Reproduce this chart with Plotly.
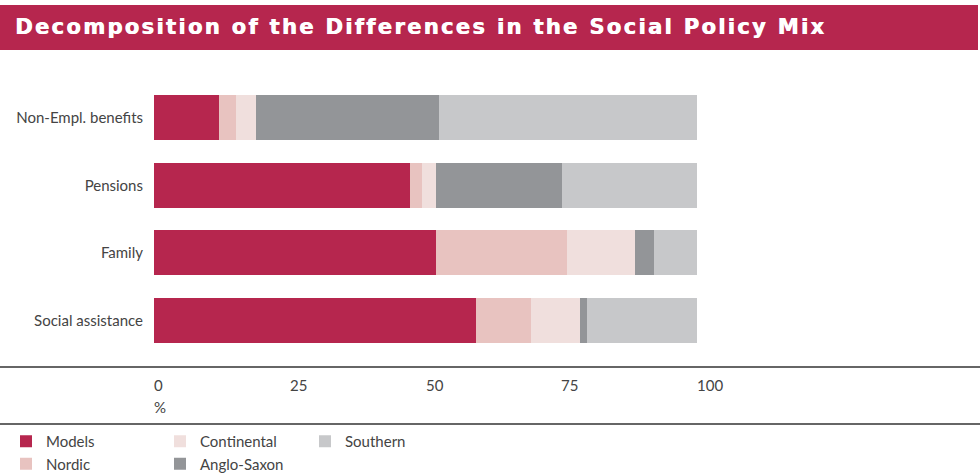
import plotly.graph_objects as go

categories = ["Non-Empl. benefits", "Pensions", "Family", "Social assistance"]
models = [12.0, 47.2, 52.0, 59.3]
nordic = [3.1, 2.2, 24.0, 10.2]
continental = [3.7, 2.6, 12.5, 8.9]
anglo_saxon = [33.7, 23.1, 3.5, 1.3]
southern = [47.5, 24.9, 8.0, 20.3]
tick_values = [0, 25, 50, 75, 100]
tick_labels = ["0", "25", "50", "75", "100"]
title_text = "Decomposition of the Differences in the Social Policy Mix"

W, H = 980, 475
ML, MR, MT, MB = 154, 283, 84, 121
PW, PH = W - ML - MR, H - MT - MB


def px(x):
    return (x - ML) / PW


def py(y):
    return (H - MB - y) / PH


series = [
    ("Models", models, "#B6264E", "legend"),
    ("Nordic", nordic, "#E8C3C0", "legend"),
    ("Continental", continental, "#F0DFDD", "legend2"),
    ("Anglo-Saxon", anglo_saxon, "#939598", "legend2"),
    ("Southern", southern, "#C7C8CA", "legend3"),
]

fig = go.Figure()
for name, vals, color, leg in series:
    fig.add_trace(go.Bar(
        y=categories, x=vals, name=name, orientation="h",
        marker=dict(color=color, line=dict(width=0)),
        legend=leg, hoverinfo="x+name",
    ))

txt = "#444444"
FONT = "Lato, Open Sans, sans-serif"
legend_common = dict(
    orientation="v", xanchor="left", yanchor="top", yref="paper", traceorder="normal",
    bgcolor="rgba(0,0,0,0)", font=dict(family=FONT, size=15, color=txt),
    tracegroupgap=0, itemwidth=30,
)

fig.update_layout(
    width=W, height=H,
    margin=dict(l=ML, r=MR, t=MT, b=MB, autoexpand=False),
    paper_bgcolor="white", plot_bgcolor="white",
    barmode="stack", bargap=0.335,
    showlegend=True,
    legend=dict(x=px(6), y=py(425), **legend_common),
    legend2=dict(x=px(160), y=py(425), **legend_common),
    legend3=dict(x=px(305), y=py(425), **legend_common),
    xaxis=dict(range=[0, 100], showgrid=False, zeroline=False, showticklabels=False,
               showline=False, fixedrange=True),
    yaxis=dict(categoryorder="array", categoryarray=categories, autorange="reversed",
               showgrid=False, zeroline=False, showline=False, ticks="",
               ticklabelstandoff=10, fixedrange=True,
               tickfont=dict(family=FONT, size=15, color=txt)),
    font=dict(family=FONT, color=txt),
)

shapes = [
    dict(type="rect", xref="paper", yref="paper", x0=px(0), x1=px(978), y0=py(50), y1=py(5),
         fillcolor="#B6264E", line=dict(width=0), layer="below"),
    dict(type="line", xref="paper", yref="paper", x0=px(0), x1=px(980), y0=py(367), y1=py(367),
         line=dict(color="#666666", width=2)),
    dict(type="line", xref="paper", yref="paper", x0=px(0), x1=px(980), y0=py(424), y1=py(424),
         line=dict(color="#333333", width=1.5)),
]
fig.update_layout(shapes=shapes)

annotations = [
    dict(text='<span style="letter-spacing:2.35px"><b>' + title_text + "</b></span>",
         xref="paper", yref="paper", x=px(13), y=py(27),
         xanchor="left", yanchor="middle", showarrow=False,
         font=dict(family="DejaVu Sans", size=21, color="white",
                   shadow="0.7px 0px 0px white")),
]
for v, lab in zip(tick_values, tick_labels):
    annotations.append(dict(text=lab, xref="x", yref="paper", x=v, y=py(385), xanchor="left",
                            yanchor="middle", showarrow=False, xshift=-2,
                            font=dict(family=FONT, size=15, color=txt)))
annotations.append(dict(text="%", xref="x", yref="paper", x=0, y=py(407), xanchor="left",
                        yanchor="middle", showarrow=False, xshift=-2,
                        font=dict(family=FONT, size=15, color=txt)))
fig.update_layout(annotations=annotations)

fig.write_html("out.html", config={"displayModeBar": False},
               post_script="document.body.style.margin='0';")
